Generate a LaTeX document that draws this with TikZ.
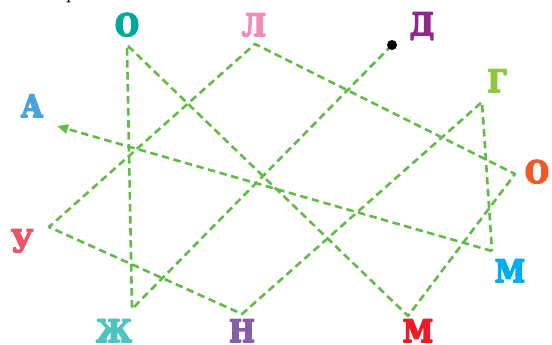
\documentclass[tikz,border=0pt]{standalone}
\usepackage{fontspec}
\usetikzlibrary{arrows.meta}
\newfontfamily\letterfont[FakeStretch=0.88]{DejaVu Serif Bold}
\newfontfamily\fragfont{DejaVu Serif}
\definecolor{routegreen}{HTML}{62BB46}
\definecolor{cTeal}{HTML}{00A99D}
\definecolor{cPink}{HTML}{F28DB8}
\definecolor{cPurple}{HTML}{93278F}
\definecolor{cLime}{HTML}{8DC63F}
\definecolor{cOrange}{HTML}{F15A24}
\definecolor{cCyan}{HTML}{00AEEF}
\definecolor{cRed}{HTML}{ED1C24}
\definecolor{cViolet}{HTML}{8560A8}
\definecolor{cTurq}{HTML}{4CC5BE}
\definecolor{cRose}{HTML}{EF5366}
\definecolor{cBlue}{HTML}{4AA3DF}
\begin{document}
\begin{tikzpicture}[x=1pt,y=-1pt,
  ltr/.style={font=\letterfont\fontsize{31}{31}\selectfont, inner sep=0pt, anchor=base,
    execute at begin node={\special{pdf:literal direct 2 Tr 1.6 w 1 j}},
    execute at end node={\special{pdf:literal direct 0 Tr}}},
  route/.style={draw=routegreen, line width=2.6pt, dash pattern=on 7.5pt off 4.5pt, line join=round}]
\useasboundingbox (0,0) rectangle (552,345);
% cut-off text fragment at the top
\node[font=\fragfont\fontsize{16}{16}\selectfont, inner sep=0pt, anchor=base west] (frag) at (66,-0.5) {р};
% letters
\node[ltr, text=cTeal]   (o1) at (127,36)  {О};
\node[ltr, text=cPink]   (l)  at (254,36)  {Л};
\node[ltr, text=cPurple] (d)  at (422,35)  {Д};
\node[ltr, text=cLime]   (g)  at (497,92)  {Г};
\node[ltr, text=cOrange] (o2) at (537,183) {О};
\node[ltr, text=cCyan]   (mc) at (510,282) {М};
\node[ltr, text=cRed]    (mr) at (418,342) {М};
\node[ltr, text=cViolet] (n)  at (242,342) {Н};
\node[ltr, text=cTurq]   (zh) at (114,342) {Ж};
\node[ltr, text=cRose]   (u)  at (22,252)  {У};
\node[ltr, text=cBlue]   (a)  at (32,117)  {А};
% route vertices
\coordinate (vD)  at (392,45);
\coordinate (vZh) at (132,309);
\coordinate (vO1) at (127,45);
\coordinate (vMr) at (408,316);
\coordinate (vO2) at (515,174);
\coordinate (vL)  at (255,44);
\coordinate (vU)  at (49,227);
\coordinate (vN)  at (242,314);
\coordinate (vG)  at (482,102);
\coordinate (vMc) at (492,251);
\coordinate (vA)  at (57,126);
\draw[route] (vD) -- (vZh) -- (vO1) -- (vMr) -- (vO2) -- (vL) -- (vU) -- (vN) -- (vG) -- (vMc);
\draw[route, -{Triangle[length=11pt,width=9pt]}] (vMc) -- (vA);
\fill[black] (vD) circle (5pt);
\end{tikzpicture}
\end{document}
